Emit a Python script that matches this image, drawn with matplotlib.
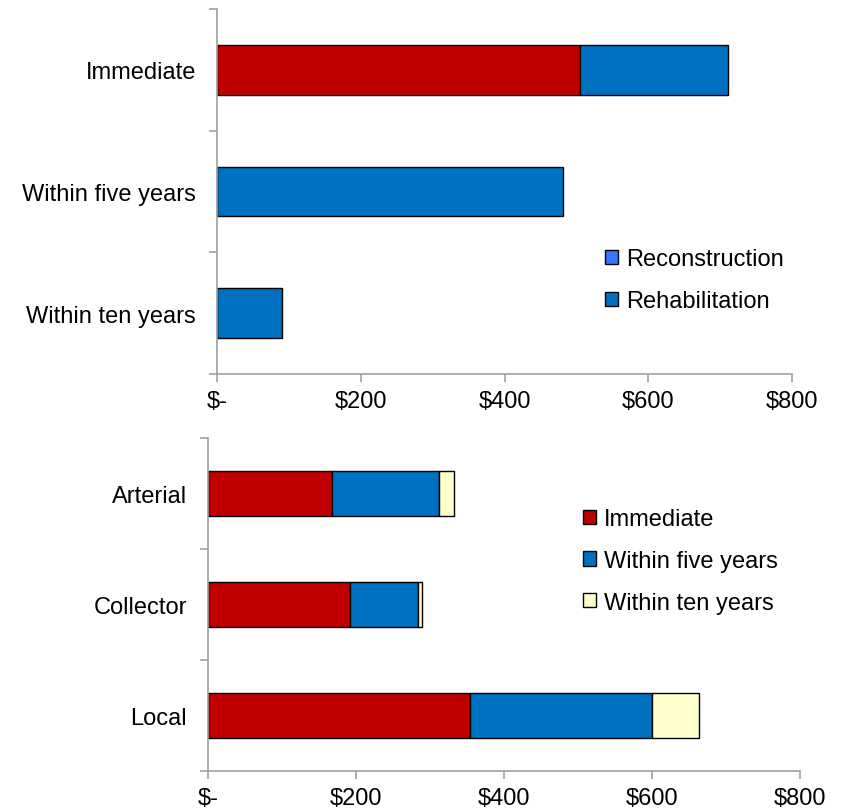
import matplotlib
matplotlib.use("Agg")
import matplotlib.pyplot as plt
from matplotlib.patches import Patch
from matplotlib.ticker import FuncFormatter
import numpy as np

plt.rcParams['font.family'] = ['Liberation Sans', 'DejaVu Sans']

# cost by timing (top panel)
timing = ['Immediate', 'Within five years', 'Within ten years']
reconstruction = [505, 0, 0]
rehabilitation = [206, 482, 91]

# cost by road class (bottom panel)
road_class = ['Arterial', 'Collector', 'Local']
immediate = [168, 192, 354]
five_years = [144, 92, 246]
ten_years = [20, 5, 64]

ticks = [0, 200, 400, 600, 800]

RED = '#C00000'
BLUE = '#0070C0'
LIGHT_BLUE = '#3377FF'
CREAM = '#FFFFCC'
GRID = '#A0A0A0'
FS = 17


def money(v, pos):
    return '$-' if v == 0 else '${:,.0f}'.format(v)


def style_axes(ax, n):
    for side in ('top', 'right'):
        ax.spines[side].set_visible(False)
    for side in ('left', 'bottom'):
        ax.spines[side].set_color(GRID)
        ax.spines[side].set_linewidth(1.2)
    ax.set_xlim(0, 800)
    ax.set_xticks(ticks)
    ax.xaxis.set_major_formatter(FuncFormatter(money))
    ax.set_ylim(n - 0.5, -0.5)
    ax.set_yticks(np.arange(n))
    ax.set_yticks(np.arange(n + 1) - 0.5, minor=True)
    ax.tick_params(axis='y', which='major', length=0, pad=15, labelsize=FS)
    ax.tick_params(axis='y', which='minor', length=5.5, color=GRID, width=1.2)
    ax.tick_params(axis='x', length=5.5, color=GRID, width=1.2, pad=6,
                   labelsize=FS)


def add_legend(ax, handles, x, y):
    ax.legend(handles=handles, loc='upper left', bbox_to_anchor=(x, y),
              bbox_transform=fig.transFigure, frameon=False, fontsize=FS,
              handlelength=0.55, handleheight=0.55, handletextpad=0.35,
              labelspacing=0.84, borderaxespad=0, borderpad=0)


fig = plt.figure(figsize=(8.5, 8.12), dpi=100)

# top panel
ax1 = fig.add_axes([0.2553, 0.5382, 0.6765, 0.4495])
y1 = np.arange(len(timing))
ax1.barh(y1, reconstruction, height=0.41, color=RED,
         edgecolor='black', linewidth=1)
ax1.barh(y1, rehabilitation, left=reconstruction, height=0.41, color=BLUE,
         edgecolor='black', linewidth=1)
ax1.set_yticklabels(timing)
style_axes(ax1, len(timing))
add_legend(ax1, [Patch(facecolor=LIGHT_BLUE, edgecolor='black', label='Reconstruction'),
                 Patch(facecolor=BLUE, edgecolor='black', label='Rehabilitation')],
           0.7118, 0.693)

# bottom panel
ax2 = fig.add_axes([0.2447, 0.0493, 0.6965, 0.4101])
y2 = np.arange(len(road_class))
left2 = np.array(immediate)
ax2.barh(y2, immediate, height=0.4, color=RED, edgecolor='black',
         linewidth=1, label='Immediate')
ax2.barh(y2, five_years, left=left2, height=0.4, color=BLUE,
         edgecolor='black', linewidth=1, label='Within five years')
left2 = left2 + np.array(five_years)
ax2.barh(y2, ten_years, left=left2, height=0.4, color=CREAM,
         edgecolor='black', linewidth=1, label='Within ten years')
ax2.set_yticklabels(road_class)
style_axes(ax2, len(road_class))
h2, _ = ax2.get_legend_handles_labels()
add_legend(ax2, h2, 0.6859, 0.3731)

fig.savefig('out.png', dpi=100)
